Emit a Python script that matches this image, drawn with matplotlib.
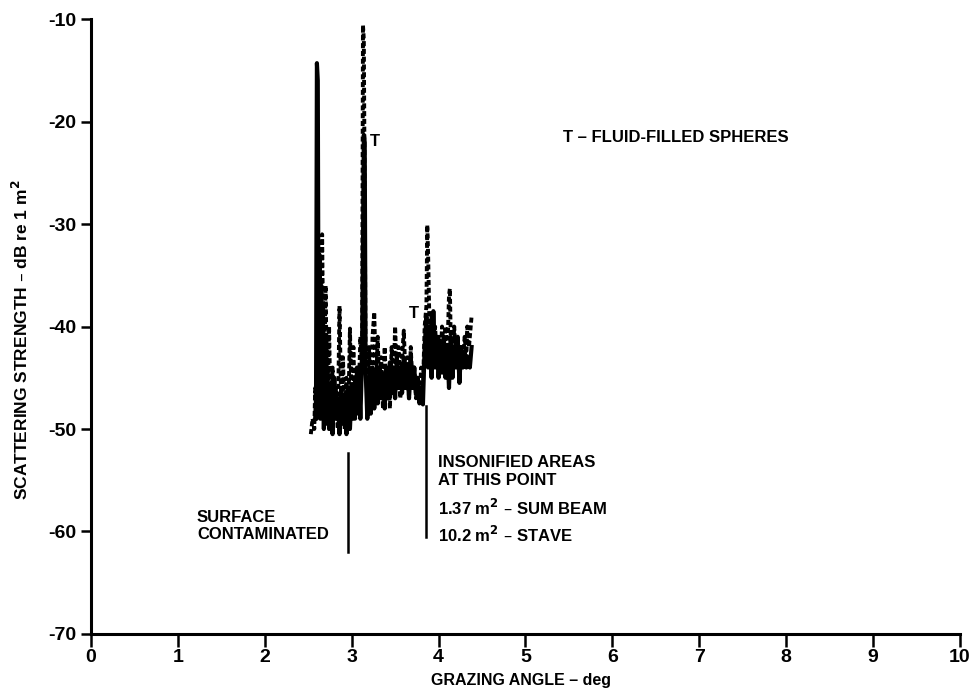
import matplotlib
matplotlib.use("Agg")
import matplotlib.pyplot as plt

plt.rcParams['font.family'] = ['Liberation Sans', 'DejaVu Sans']
plt.rcParams['font.weight'] = 'bold'

# solid trace (sum beam)
sum_x = [2.58, 2.59, 2.60, 2.61, 2.62, 2.63, 2.64, 2.65, 2.66, 2.67, 2.68, 2.69, 2.70,
         2.72, 2.74, 2.76, 2.78, 2.80, 2.82, 2.84, 2.86, 2.88, 2.90, 2.92, 2.94, 2.96,
         2.98, 3.00, 3.02, 3.04, 3.06, 3.08, 3.10, 3.12, 3.14, 3.15, 3.16, 3.18, 3.20,
         3.22, 3.24, 3.26, 3.28, 3.30, 3.32, 3.34, 3.36, 3.38, 3.40, 3.42, 3.44, 3.46,
         3.48, 3.50, 3.52, 3.54, 3.56, 3.58, 3.60, 3.62, 3.64, 3.66, 3.68, 3.70, 3.72,
         3.74, 3.76, 3.78, 3.80, 3.82, 3.84, 3.86, 3.88, 3.90, 3.92, 3.94, 3.96, 3.98,
         4.00, 4.02, 4.04, 4.06, 4.08, 4.10, 4.12, 4.14, 4.16, 4.18, 4.20, 4.22, 4.24,
         4.26, 4.28, 4.30, 4.32, 4.34, 4.36, 4.38]
sum_y = [-49, -47, -14.3, -16, -46, -33, -49, -36, -48, -38, -50, -41, -49.5,
         -44, -50, -46, -50.5, -45, -49, -47, -50.5, -46, -49.5, -47, -50.5, -46,
         -50, -46, -49, -45, -48.5, -44, -49, -43, -21.3, -22, -44, -49, -45,
         -48.5, -44, -48, -45, -47.5, -44, -47, -45, -48, -44, -47, -43.5, -46.5,
         -44, -47, -43, -46, -44, -46.5, -43, -46, -44, -47, -43, -46, -44,
         -46.5, -45, -47.5, -46, -47.6, -42, -39, -44, -40, -45, -38.5, -44, -41,
         -45, -42, -44.5, -41, -45, -42, -46, -41, -45, -42, -44, -41, -45.5,
         -42, -44, -42.5, -44, -43, -44, -42]

# dashed trace (stave)
stave_x = [2.53, 2.55, 2.57, 2.58, 2.60, 2.62, 2.64, 2.66, 2.68, 2.70, 2.72, 2.74, 2.76,
           2.78, 2.80, 2.82, 2.84, 2.86, 2.88, 2.90, 2.92, 2.94, 2.96, 2.98, 3.00, 3.02,
           3.04, 3.06, 3.08, 3.10, 3.12, 3.13, 3.14, 3.16, 3.18, 3.20, 3.22, 3.24, 3.26,
           3.28, 3.30, 3.32, 3.34, 3.36, 3.38, 3.40, 3.42, 3.44, 3.46, 3.48, 3.50, 3.52,
           3.54, 3.56, 3.58, 3.60, 3.62, 3.64, 3.66, 3.68, 3.70, 3.72, 3.74, 3.76, 3.78,
           3.80, 3.82, 3.84, 3.86, 3.87, 3.88, 3.90, 3.92, 3.94, 3.96, 3.98, 4.00, 4.02,
           4.04, 4.06, 4.08, 4.10, 4.12, 4.13, 4.14, 4.16, 4.18, 4.20, 4.22, 4.24, 4.26,
           4.28, 4.30, 4.32, 4.33, 4.35, 4.37, 4.38]
stave_y = [-50.5, -49, -50, -46, -49, -40, -48, -31, -47, -36, -49, -40, -50,
           -44, -49, -46, -50, -38, -48, -43, -50, -45, -49, -40.2, -48, -42,
           -49, -44, -47, -41, -44, -10.6, -12, -43, -47, -42, -48, -41, -38.6,
           -46, -41, -47, -43, -48, -42, -47, -44, -48, -42, -46, -40, -45,
           -42, -47, -43, -40.4, -45, -43, -47, -42, -46, -44, -47, -45, -47,
           -44, -46, -40, -38, -30.1, -33, -42, -39, -44, -40, -43, -41, -44,
           -40, -42.5, -40, -43, -37, -36.3, -41, -44, -40, -43, -41, -44, -42,
           -43.5, -41, -43, -40, -42, -40, -39]

x_ticks = list(range(0, 11))
y_ticks = list(range(-70, 0, 10))

fig = plt.figure(figsize=(9.72, 6.94), dpi=100)
ax = fig.add_axes([0.0936, 0.0865, 0.894, 0.886])

ax.plot(stave_x, stave_y, color='black', lw=2.8, linestyle=(0, (1.3, 0.7)))
ax.plot(sum_x, sum_y, color='black', lw=3.0)

# marker lines for the annotations
ax.plot([2.96, 2.96], [-52.3, -62.0], color='black', lw=1.8)
ax.plot([3.86, 3.86], [-47.8, -60.5], color='black', lw=1.8)

ax.text(3.21, -21.9, 'T', fontsize=12, ha='left', va='center')
ax.text(3.66, -38.7, 'T', fontsize=12, ha='left', va='center')
ax.text(5.43, -21.6, 'T \u2013 FLUID-FILLED SPHERES', fontsize=12, ha='left', va='center')
ax.text(1.22, -58.6, 'SURFACE', fontsize=12, ha='left', va='center')
ax.text(1.22, -60.3, 'CONTAMINATED', fontsize=12, ha='left', va='center')
ax.text(3.99, -53.3, 'INSONIFIED AREAS', fontsize=12, ha='left', va='center')
ax.text(3.99, -55.0, 'AT THIS POINT', fontsize=12, ha='left', va='center')
ax.text(3.99, -57.7, '1.37 m$^\\mathbf{2}$ \u2013 SUM BEAM', fontsize=12, ha='left', va='center')
ax.text(3.99, -60.3, '10.2 m$^\\mathbf{2}$ \u2013 STAVE', fontsize=12, ha='left', va='center')

ax.set_xlim(0, 10)
ax.set_ylim(-70, -10)
ax.set_xticks(x_ticks)
ax.set_yticks(y_ticks)
ax.set_xticklabels([str(v) for v in x_ticks])
ax.set_yticklabels([str(v) for v in y_ticks])
ax.tick_params(axis='both', labelsize=14, width=1.8, length=7, direction='out')
ax.tick_params(axis='x', length=9, pad=2)
for lbl in ax.get_xticklabels() + ax.get_yticklabels():
    lbl.set_fontweight('bold')

for side in ('top', 'right'):
    ax.spines[side].set_visible(False)
for side in ('left', 'bottom'):
    ax.spines[side].set_linewidth(2.2)

fig.text(0.5365, 0.008, 'GRAZING ANGLE \u2013 deg', fontsize=11.5, ha='center', va='bottom')
fig.text(0.022, 0.51, 'SCATTERING STRENGTH \u2013 dB re 1 m$^\\mathbf{2}$', fontsize=12.5,
         rotation=90, ha='center', va='center')

fig.savefig('out.png', dpi=100)
